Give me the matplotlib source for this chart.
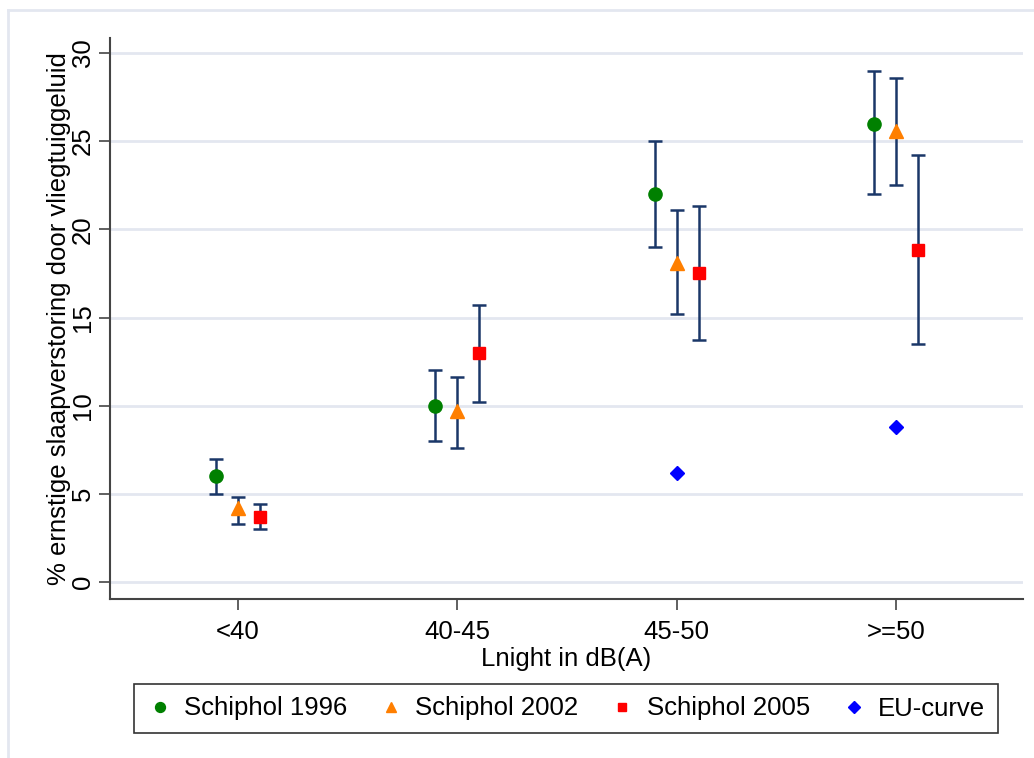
import matplotlib
matplotlib.use("Agg")
import matplotlib.pyplot as plt
from matplotlib.lines import Line2D
import numpy as np

plt.rcParams['font.family'] = ['Liberation Sans', 'DejaVu Sans']

categories = ["<40", "40-45", "45-50", ">=50"]

s1996 = [6.0, 10.0, 22.0, 26.0]
s1996_lo = [5.0, 8.0, 19.0, 22.0]
s1996_hi = [7.0, 12.0, 25.0, 29.0]

s2002 = [4.2, 9.7, 18.1, 25.6]
s2002_lo = [3.3, 7.6, 15.2, 22.5]
s2002_hi = [4.8, 11.6, 21.1, 28.6]

s2005 = [3.7, 13.0, 17.5, 18.8]
s2005_lo = [3.0, 10.2, 13.7, 13.5]
s2005_hi = [4.4, 15.7, 21.3, 24.2]

eu_cats = ["45-50", ">=50"]
eu_vals = [6.2, 8.8]

yticks = [0, 5, 10, 15, 20, 25, 30]

W, H = 1034, 758
fig = plt.figure(figsize=(W / 100, H / 100), dpi=100)
ax = fig.add_axes([110 / W, 1 - 599 / H, (1023 - 110) / W, (599 - 38) / H])

# outer frame lines
fig.add_artist(Line2D([8 / W, 8 / W], [0, 1 - 10 / H], transform=fig.transFigure,
                      color='#e3e7f0', lw=2))
fig.add_artist(Line2D([8 / W, 1], [1 - 10 / H, 1 - 10 / H], transform=fig.transFigure,
                      color='#e3e7f0', lw=2))

x = np.arange(1, len(categories) + 1)
off = 0.1
navy = '#1a3768'
series = [
    (s1996, s1996_lo, s1996_hi, -off, 'o', '#008000', 9.5, "Schiphol 1996"),
    (s2002, s2002_lo, s2002_hi, 0.0, '^', '#ff7f00', 10, "Schiphol 2002"),
    (s2005, s2005_lo, s2005_hi, off, 's', '#ff0000', 8.2, "Schiphol 2005"),
]

handles = []
for vals, lo, hi, dx, mk, col, ms, lab in series:
    v = np.array(vals)
    yerr = np.vstack([v - np.array(lo), np.array(hi) - v])
    ax.errorbar(x + dx, v, yerr=yerr, fmt='none', ecolor=navy, elinewidth=1.8,
                capsize=5, capthick=1.8, zorder=2)
    ax.plot(x + dx, v, linestyle='none', marker=mk, color=col, markersize=ms, zorder=3)
    handles.append(Line2D([], [], linestyle='none', marker=mk, color=col,
                          markersize=ms * 0.75, label=lab))

eu_x = [categories.index(c) + 1 for c in eu_cats]
ax.plot(eu_x, eu_vals, linestyle='none', marker='D', color='#0000ff', markersize=7.5, zorder=3)
handles.append(Line2D([], [], linestyle='none', marker='D', color='#0000ff',
                      markersize=6, label="EU-curve"))

ax.set_xlim(0.418, 4.577)
y0px, y30px = 582, 53
units_per_px = 30 / (y0px - y30px)
ax.set_ylim(-(599 - y0px) * units_per_px, 30 + (y30px - 38) * units_per_px)

ax.set_yticks(yticks)
ax.set_yticklabels([str(t) for t in yticks], rotation=90, va='center')
ax.set_xticks(x)
ax.set_xticklabels(categories)
ax.grid(axis='y', color='#e3e7f0', lw=2)
ax.set_axisbelow(True)

for s in ['top', 'right']:
    ax.spines[s].set_visible(False)
ax.spines['left'].set_color('#444444')
ax.spines['bottom'].set_color('#444444')
ax.spines['left'].set_linewidth(1.5)
ax.spines['bottom'].set_linewidth(1.5)
ax.tick_params(axis='both', labelsize=18.5, length=8, color='#444444', width=1.2)
ax.tick_params(axis='x', pad=7)
ax.tick_params(axis='y', pad=3)

ax.set_ylabel("% ernstige slaapverstoring door vliegtuiggeluid", fontsize=18.5, labelpad=0)
ax.set_xlabel("Lnight in dB(A)", fontsize=18.5, labelpad=2)

leg = fig.legend(handles=handles, loc='center', ncol=4,
                 bbox_to_anchor=(566 / W, 1 - 708.5 / H), fontsize=18.5,
                 frameon=True, fancybox=False, edgecolor='black',
                 handletextpad=0.45, columnspacing=1.2, handlelength=1.0,
                 borderpad=0.5)
leg.get_frame().set_linewidth(1.2)

fig.savefig("out.png", dpi=100, facecolor='white')
